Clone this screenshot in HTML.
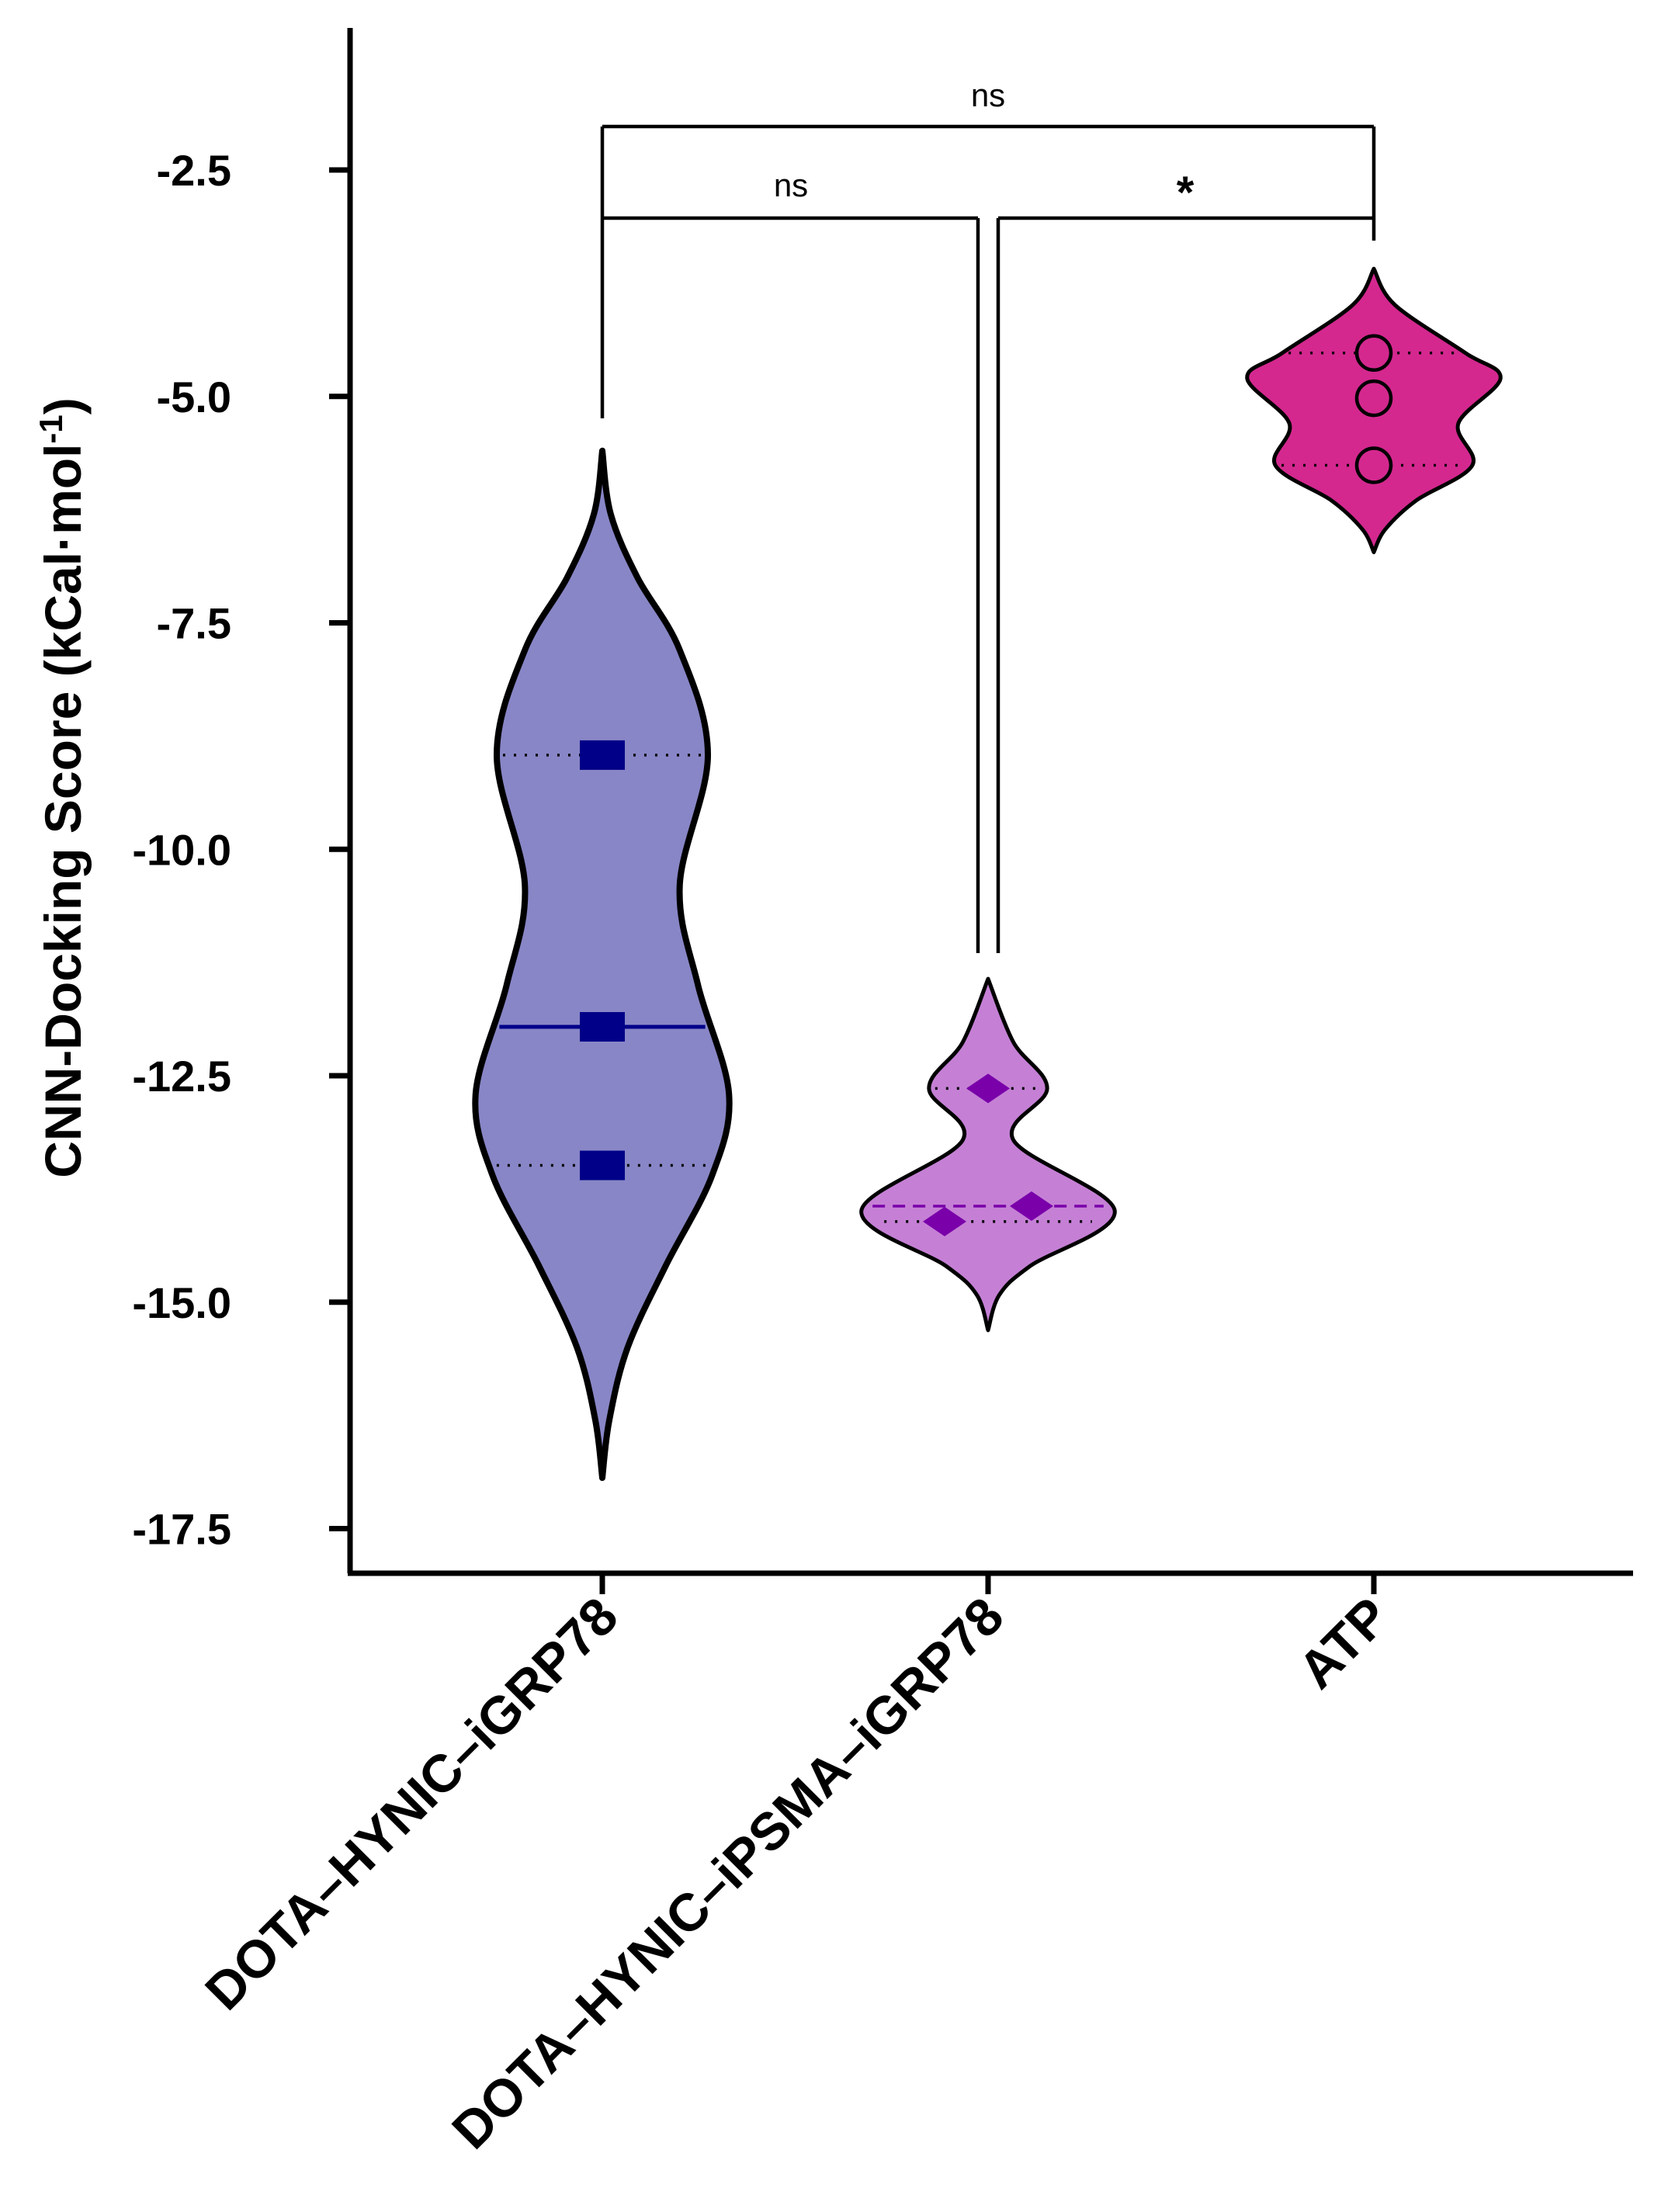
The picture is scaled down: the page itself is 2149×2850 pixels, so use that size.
<!DOCTYPE html>
<html><head><meta charset="utf-8"><style>
html,body{margin:0;padding:0;background:#fff;}
svg{display:block;font-family:"Liberation Sans",Arial,sans-serif;}
</style></head><body>
<svg id="chart" width="2149" height="2850" viewBox="0 0 2149 2850" xmlns="http://www.w3.org/2000/svg">
<g id="axes"></g>
<g id="violins"></g>
<g id="brackets"></g>
<text transform="translate(104,1015) rotate(-90)" text-anchor="middle" font-size="66" font-weight="bold">CNN-Docking Score (kCal·mol<tspan dy="-24" font-size="42">-1</tspan><tspan dy="24">)</tspan></text>
</svg>
<script>
const categories = ["DOTA\u2013HYNIC\u2013iGRP78","DOTA\u2013HYNIC\u2013iPSMA\u2013iGRP78","ATP"];
const yTicks = [-2.5,-5.0,-7.5,-10.0,-12.5,-15.0,-17.5];
const yTickLabels = ["-2.5","-5.0","-7.5","-10.0","-12.5","-15.0","-17.5"];
const points1 = [-8.96,-11.96,-13.49];
const points2 = [-12.64,-13.94,-14.11];
const points3 = [-4.52,-5.02,-5.76];
const median = [-11.96,-13.94,-5.02];
const quartLow = [-13.49,-14.11,-5.76];
const quartHigh = [-8.96,-12.64,-4.52];
// violin density profiles: value levels and relative half-widths
const dens1V = [-5.6,-6.3,-7.0,-7.8,-8.96,-10.4,-11.5,-12.7,-13.6,-14.6,-15.5,-16.3,-16.94];
const dens1W = [0,6,25,55,75,55,68,90,78,45,18,5,0];
const dens2V = [-11.43,-12.13,-12.64,-13.21,-13.99,-14.6,-14.92,-15.31];
const dens2W = [0,18,42,18,90,30,8,0];
const dens3V = [-3.59,-3.99,-4.52,-4.8,-5.3,-5.76,-6.15,-6.47,-6.72];
const dens3W = [0,15,65,90,60,70,30,8,0];

const NS="http://www.w3.org/2000/svg";
const X0=451, XEND=2104, YTOP=36, YBOT=2027;
function yS(v){return 219+(-2.5-v)*116.7;}
const catX=[776,1273,1770];
function xS(i){return catX[i];}
const WS=1.8135;
function mk(tag,attrs,parent){const e=document.createElementNS(NS,tag);for(const k in attrs)e.setAttribute(k,attrs[k]);parent.appendChild(e);return e;}

const axes=document.getElementById('axes');
let e=mk('line',{x1:X0,y1:YTOP,x2:X0,y2:YBOT,stroke:'#000','stroke-width':7},axes);


e=mk('line',{x1:X0-3,y1:YBOT,x2:XEND,y2:YBOT,stroke:'#000','stroke-width':7},axes);


yTicks.forEach((v,i)=>{
  const t=mk('line',{x1:X0-27,y1:yS(v),x2:X0,y2:yS(v),stroke:'#000','stroke-width':7},axes);
  
  
  const l=mk('text',{x:298,y:yS(v)+20,'text-anchor':'end','font-size':56,'font-weight':'bold'},axes);
  l.textContent=yTickLabels[i];
  
  
});
categories.forEach((c,i)=>{
  const t=mk('line',{x1:xS(i),y1:YBOT,x2:xS(i),y2:YBOT+27,stroke:'#000','stroke-width':7},axes);
  
  
  const l=mk('text',{transform:`translate(${xS(i)+24},${YBOT+60}) rotate(-45)`,'text-anchor':'end','font-size':68,'font-weight':'bold'},axes);
  l.textContent=c;
  
  
});

function violinPath(cx,vs,ws){
  const pts=vs.map((v,i)=>[ws[i]*WS,yS(v)]);
  function side(sign,arr){
    let d='';
    for(let i=0;i<arr.length-1;i++){
      const p0=arr[Math.max(0,i-1)],p1=arr[i],p2=arr[i+1],p3=arr[Math.min(arr.length-1,i+2)];
      const c1=[p1[0]+(p2[0]-p0[0])/6,p1[1]+(p2[1]-p0[1])/6];
      const c2=[p2[0]-(p3[0]-p1[0])/6,p2[1]-(p3[1]-p1[1])/6];
      d+=` C${cx+sign*c1[0]},${c1[1]} ${cx+sign*c2[0]},${c2[1]} ${cx+sign*p2[0]},${p2[1]}`;
    }
    return d;
  }
  const rev=pts.slice().reverse();
  return `M${cx},${pts[0][1]}`+side(1,pts)+side(-1,rev)+'Z';
}
const vg=document.getElementById('violins');
const fills=['#8886c6','#c580d5','#d4288f'];
const marks=['#000088','#7a00aa','#d4288f'];
const strokeW=[8,5,5];
const densV=[dens1V,dens2V,dens3V], densW=[dens1W,dens2W,dens3W];
const names=['violin-dota-hynic-igrp78','violin-dota-hynic-ipsma-igrp78','violin-atp'];
function halfW(i,v){const V=densV[i],W=densW[i];for(let k=0;k<V.length-1;k++){if(v<=V[k]&&v>=V[k+1]){const t=(v-V[k])/(V[k+1]-V[k]);return (W[k]+(W[k+1]-W[k])*t)*WS;}}return 0;}
for(let i=0;i<3;i++){
  const g=mk('g',{},vg);
  
  
  const p=mk('path',{d:violinPath(xS(i),densV[i],densW[i]),fill:fills[i],stroke:'#000','stroke-width':strokeW[i],'stroke-linejoin':'round'},g);
  
  
  [quartLow[i],quartHigh[i]].forEach(q=>{
    const w=halfW(i,q)-8;
    const l=mk('line',{x1:xS(i)-w,y1:yS(q),x2:xS(i)+w,y2:yS(q),stroke:'#000','stroke-width':3.5,'stroke-dasharray':'3 11'},g);
    
    
  });
  if(i<2){
    const w=halfW(i,median[i])-6;
    const l=mk('line',{x1:xS(i)-w,y1:yS(median[i]),x2:xS(i)+w,y2:yS(median[i]),stroke:marks[i],'stroke-width':i==0?5:3.5,'stroke-dasharray':i==0?'none':'16 10'},g);
    
    
  }
}
points1.forEach(v=>{
  const r=mk('rect',{x:xS(0)-29,y:yS(v)-19,width:58,height:38,fill:marks[0]},vg);
  
  
});
const dx2=[0,56,-56];
points2.forEach((v,k)=>{
  const cx=xS(1)+dx2[k],cy=yS(v);
  const r=mk('polygon',{points:`${cx},${cy-19} ${cx+28},${cy} ${cx},${cy+19} ${cx-28},${cy}`,fill:marks[1]},vg);
  
  
});
points3.forEach(v=>{
  const r=mk('circle',{cx:xS(2),cy:yS(v),r:22,fill:marks[2],stroke:'#000','stroke-width':4.5},vg);
  
  
});
const bg=document.getElementById('brackets');
const Yb1=163, Yb2=281;
const bl=[
 [xS(0),Yb1,xS(2),Yb1],[xS(0),Yb1,xS(0),539],[xS(2),Yb1,xS(2),310],
 [xS(0),Yb2,1260,Yb2],[1260,Yb2,1260,1228],[1286,Yb2,xS(2),Yb2],[1286,Yb2,1286,1228]
];
bl.forEach(b=>{
  const l=mk('line',{x1:b[0],y1:b[1],x2:b[2],y2:b[3],stroke:'#000','stroke-width':4.5},bg);
  
  
});
[[1273,137,'ns',42,'normal'],[1019,253,'ns',42,'normal'],[1527,268,'*',58,'bold']].forEach(t=>{
  const l=mk('text',{x:t[0],y:t[1],'text-anchor':'middle','font-size':t[3],'font-weight':t[4]},bg);
  l.textContent=t[2];
  
  
});
</script>
</body></html>
